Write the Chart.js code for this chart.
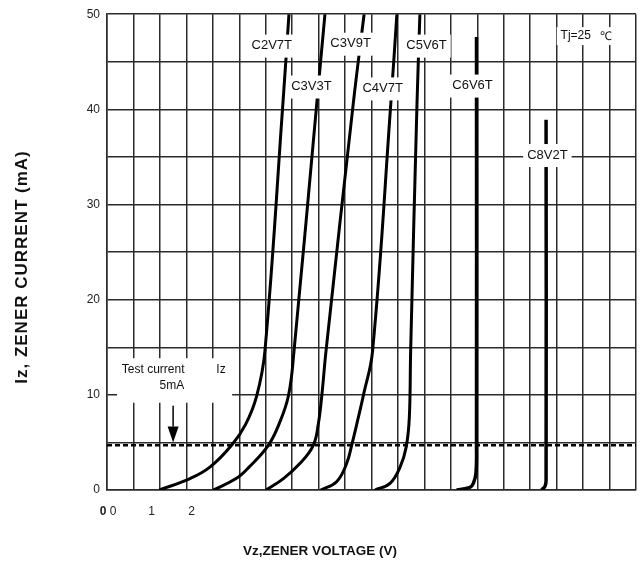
<!DOCTYPE html>
<html>
<head>
<meta charset="utf-8">
<script src="https://cdn.jsdelivr.net/npm/chart.js@4.4.0/dist/chart.umd.min.js"></script>
<style>
  body { margin: 0; background: #fff; }
  canvas { display: block; }
</style>
</head>
<body>
<canvas id="zenerChart" width="644" height="569"></canvas>
<script>
// x is measured in grid divisions (0..20), y is zener current in mA
const c2v7tV = [1.98, 3.14, 3.89, 4.71, 5.24, 5.66, 5.97, 6.65, 6.88];
const c2v7tI = [0, 1.2, 2.4, 4.7, 6.9, 9.9, 14.6, 40.6, 50];
const c3v3tV = [4.02, 4.88, 5.37, 6.1, 6.5, 6.86, 7.07, 7.93, 8.24];
const c3v3tI = [0, 1.2, 2.4, 4.7, 6.9, 9.9, 14.6, 40.6, 50];
const c3v9tV = [6.01, 6.67, 7.3, 7.8, 7.99, 8.12, 8.28, 9.31, 9.72];
const c3v9tI = [0, 1.2, 2.8, 4.7, 6.95, 9.9, 14.6, 40.6, 50];
const c4v7tV = [8.08, 8.68, 9.06, 9.25, 9.5, 9.69, 10.04, 10.73, 10.96];
const c4v7tI = [0, 0.87, 2.78, 4.7, 7.6, 9.9, 14.6, 40.6, 50];
const c5v6tV = [10.13, 10.7, 11.08, 11.31, 11.43, 11.48, 11.72, 11.83];
const c5v6tI = [0, 0.7, 2.4, 4.5, 7.6, 14.6, 40.6, 50];
const c6v6tV = [13.22, 13.72, 13.85, 13.95, 13.97, 13.97];
const c6v6tI = [0, 0.28, 0.7, 1.8, 4.7, 47.6];
const c8v2tV = [16.43, 16.56, 16.6, 16.6];
const c8v2tI = [0, 0.4, 1.0, 38.9];

const testCurrent = 4.7;
const xTickValues = [-0.15, 0.23, 1.69, 3.2];
const xTickLabels = ['0', '0', '1', '2'];

const curveNames = ['C2V7T', 'C3V3T', 'C3V9T', 'C4V7T', 'C5V6T', 'C6V6T', 'C8V2T'];
const nameX = [6.23, 7.73, 9.21, 10.42, 12.08, 13.82, 16.65];
const nameY = [46.7, 42.4, 46.9, 42.2, 46.7, 42.5, 35.2];

const FONT = '"Liberation Sans", Arial, sans-serif';
const GRID = '#2b2b2b';

function pairs(xs, ys) {
    return xs.map((x, i) => ({ x: x, y: ys[i] }));
}

function curve(xs, ys, width) {
    return {
        data: pairs(xs, ys),
        showLine: true,
        borderColor: '#000',
        borderWidth: width || 3,
        pointRadius: 0,
        tension: 0.4
    };
}

// white boxed labels, arrow and axis titles
const notesPlugin = {
    id: 'notes',
    afterDatasetsDraw(chart) {
        const ctx = chart.ctx;
        const sx = chart.scales.x, sy = chart.scales.y;
        ctx.save();
        ctx.font = '13px ' + FONT;
        ctx.textAlign = 'center';
        ctx.textBaseline = 'middle';

        curveNames.forEach((name, i) => {
            const px = sx.getPixelForValue(nameX[i]);
            const py = sy.getPixelForValue(nameY[i]);
            const w = ctx.measureText(name).width + 8;
            ctx.fillStyle = '#fff';
            ctx.fillRect(px - w / 2, py - 11, w, 23);
            ctx.fillStyle = '#111';
            ctx.fillText(name, px, py);
        });

        // Tj box
        const tx = sx.getPixelForValue(18.1), ty = sy.getPixelForValue(47.7);
        ctx.fillStyle = '#fff';
        ctx.fillRect(tx - 29, ty - 9, 58, 18);
        ctx.fillStyle = '#111';
        ctx.font = '12px ' + FONT;
        ctx.fillText('Tj=25', tx - 10, ty);
        ctx.fillText('\u2103', tx + 20, ty + 1);

        // test current box
        const bl = sx.getPixelForValue(0.38), br = sx.getPixelForValue(4.73);
        const bt = sy.getPixelForValue(13.85), bb = sy.getPixelForValue(9.17);
        ctx.fillStyle = '#fff';
        ctx.fillRect(bl, bt, br - bl, bb - bt);
        ctx.fillStyle = '#111';
        ctx.font = '12px ' + FONT;
        ctx.textAlign = 'left';
        ctx.fillText('Test current', sx.getPixelForValue(0.56), sy.getPixelForValue(12.68));
        ctx.textAlign = 'center';
        ctx.fillText('Iz', sx.getPixelForValue(4.31), sy.getPixelForValue(12.68));
        ctx.fillText('5mA', sx.getPixelForValue(2.45), sy.getPixelForValue(11.0));

        // arrow down to the test current line
        const ax = sx.getPixelForValue(2.5);
        const aTop = sy.getPixelForValue(8.85);
        const aHead = sy.getPixelForValue(6.67);
        const aTip = sy.getPixelForValue(5.0);
        ctx.strokeStyle = '#000';
        ctx.lineWidth = 1.5;
        ctx.beginPath();
        ctx.moveTo(ax, aTop);
        ctx.lineTo(ax, aHead);
        ctx.stroke();
        ctx.fillStyle = '#000';
        ctx.beginPath();
        ctx.moveTo(ax - 5.5, aHead);
        ctx.lineTo(ax + 5.5, aHead);
        ctx.lineTo(ax, aTip);
        ctx.closePath();
        ctx.fill();
        ctx.restore();
    },
    afterDraw(chart) {
        const ctx = chart.ctx;
        ctx.save();
        ctx.fillStyle = '#111';
        ctx.font = 'bold 17px ' + FONT;
        ctx.letterSpacing = '1px';
        ctx.textAlign = 'center';
        ctx.textBaseline = 'middle';
        ctx.translate(22, 267);
        ctx.rotate(-Math.PI / 2);
        ctx.fillText('Iz, ZENER CURRENT (mA)', 0, 0);
        ctx.restore();

        ctx.save();
        ctx.fillStyle = '#111';
        ctx.font = 'bold 13.5px ' + FONT;
        ctx.textAlign = 'center';
        ctx.textBaseline = 'middle';
        ctx.fillText('Vz,ZENER VOLTAGE (V)', 320, 551);
        ctx.restore();
    }
};

const gridValues = [];
for (let v = 0; v <= 20; v++) gridValues.push(v);

const ctx = document.getElementById('zenerChart').getContext('2d');
new Chart(ctx, {
    type: 'scatter',
    data: {
        datasets: [
            curve(c2v7tV, c2v7tI),
            curve(c3v3tV, c3v3tI),
            curve(c3v9tV, c3v9tI),
            curve(c4v7tV, c4v7tI),
            curve(c5v6tV, c5v6tI),
            curve(c6v6tV, c6v6tI, 3.5),
            curve(c8v2tV, c8v2tI, 3.5),
            {
                data: pairs([0, 20], [testCurrent, testCurrent]),
                showLine: true,
                borderColor: '#000',
                borderWidth: 2.5,
                borderDash: [5, 3],
                pointRadius: 0
            }
        ]
    },
    options: {
        responsive: false,
        animation: false,
        layout: { padding: { left: 10, right: 8, top: 10, bottom: 6 } },
        plugins: {
            legend: { display: false },
            tooltip: { enabled: false }
        },
        scales: {
            x: {
                type: 'linear',
                min: 0,
                max: 20,
                afterBuildTicks: scale => {
                    scale.ticks = gridValues.map(v => ({ value: v }))
                        .concat(xTickValues.map(v => ({ value: v, named: true })));
                },
                afterFit: scale => { scale.height = 73; },
                grid: {
                    drawTicks: false,
                    lineWidth: 1.5,
                    color: c => (c.tick && c.tick.named) ? 'rgba(0,0,0,0)' : GRID
                },
                border: { color: GRID, width: 1.5 },
                ticks: {
                    autoSkip: false,
                    maxRotation: 0,
                    padding: 14,
                    color: '#222',
                    font: c => ({ family: FONT, size: 12, weight: (c.index === gridValues.length) ? 'bold' : 'normal' }),
                    callback: function (value, index) {
                        const k = index - gridValues.length;
                        return k >= 0 ? xTickLabels[k] : '';
                    }
                }
            },
            y: {
                min: 0,
                max: 50,
                afterFit: scale => { scale.width = 97; },
                grid: { drawTicks: false, lineWidth: 1.5, color: GRID },
                border: { color: GRID, width: 1.5 },
                ticks: {
                    stepSize: 5,
                    padding: 7,
                    color: '#222',
                    font: { family: FONT, size: 12 },
                    callback: v => (v % 10 === 0 ? v : '')
                }
            }
        }
    },
    plugins: [notesPlugin]
});
</script>
</body>
</html>
